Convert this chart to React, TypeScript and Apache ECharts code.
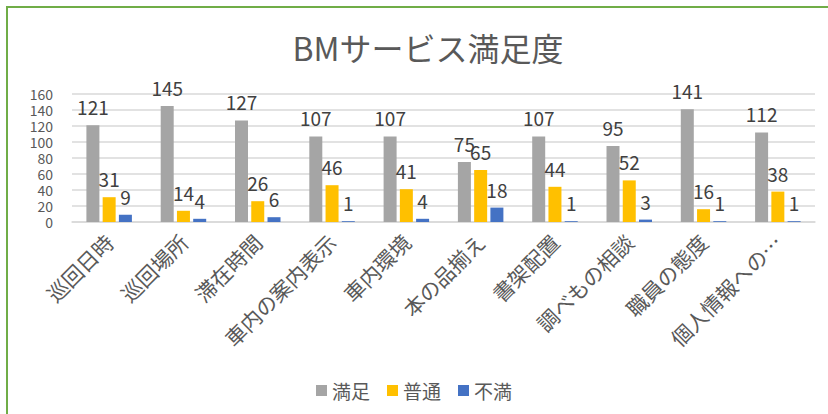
import React, { useEffect, useRef } from "react";
import * as echarts from "echarts";

const categories = [
  "巡回日時",
  "巡回場所",
  "滞在時間",
  "車内の案内表示",
  "車内環境",
  "本の品揃え",
  "書架配置",
  "調べもの相談",
  "職員の態度",
  "個人情報への…",
];
const satisfied = [121, 145, 127, 107, 107, 75, 107, 95, 141, 112];
const normal = [31, 14, 26, 46, 41, 65, 44, 52, 16, 38];
const unsatisfied = [9, 4, 6, 1, 4, 18, 1, 3, 1, 1];
const seriesNames = ["満足", "普通", "不満"];
const colors = ["#A5A5A5", "#FFC000", "#4472C4"];

const FONT = "'Liberation Sans Narrow', 'Noto Sans CJK JP', sans-serif";
const JFONT = "'Noto Sans CJK JP', sans-serif";

export default function App() {
  const ref = useRef<HTMLDivElement>(null);
  useEffect(() => {
    document.body.style.margin = "0";
    const chart = echarts.init(ref.current!, null, { renderer: "svg" });
    const mk = (i: number, data: number[]) => ({
      name: seriesNames[i],
      type: "bar",
      data,
      barWidth: 13,
      barGap: "25%",
      itemStyle: { color: colors[i] },
      label: {
        show: true,
        position: "top",
        distance: 9,
        color: "#404040",
        fontSize: 19,
        fontFamily: FONT,
      },
    });
    chart.setOption({
      animation: false,
      backgroundColor: "#fff",
      title: {
        text: "BMサービス満足度",
        left: 423,
        textAlign: "center",
        top: 26,
        textStyle: { color: "#595959", fontSize: 32, fontWeight: "normal", fontFamily: JFONT },
      },
      legend: {
        data: seriesNames,
        left: "center",
        top: 376,
        itemWidth: 11,
        itemHeight: 11,
        itemGap: 17,
        icon: "rect",
        textStyle: { color: "#595959", fontSize: 19, fontFamily: JFONT },
      },
      grid: { left: 72, right: 13, top: 94, bottom: 192, containLabel: false },
      xAxis: {
        type: "category",
        data: categories,
        axisLine: { lineStyle: { color: "#D9D9D9", width: 1.5 } },
        axisTick: { show: false },
        axisLabel: {
          rotate: 45,
          interval: 0,
          color: "#595959",
          fontSize: 21,
          fontFamily: JFONT,
          margin: 16,
        },
      },
      yAxis: {
        type: "value",
        min: 0,
        max: 160,
        interval: 20,
        axisLine: { show: false },
        axisTick: { show: false },
        splitLine: { lineStyle: { color: "#D9D9D9", width: 1.5 } },
        axisLabel: {
          color: "#595959",
          fontSize: 14,
          lineHeight: 14,
          fontFamily: FONT,
          margin: 19,
          hideOverlap: false,
          showMinLabel: true,
          showMaxLabel: true,
        },
      },
      graphic: [
        { type: "line", shape: { x1: 6, y1: 7, x2: 828, y2: 7 }, style: { stroke: "#70AD47", lineWidth: 2 } },
        { type: "line", shape: { x1: 7, y1: 7, x2: 7, y2: 414 }, style: { stroke: "#70AD47", lineWidth: 2 } },
      ],
      series: [mk(0, satisfied), mk(1, normal), mk(2, unsatisfied)],
    });
    return () => chart.dispose();
  }, []);
  return <div ref={ref} style={{ width: 828, height: 414 }} />;
}
